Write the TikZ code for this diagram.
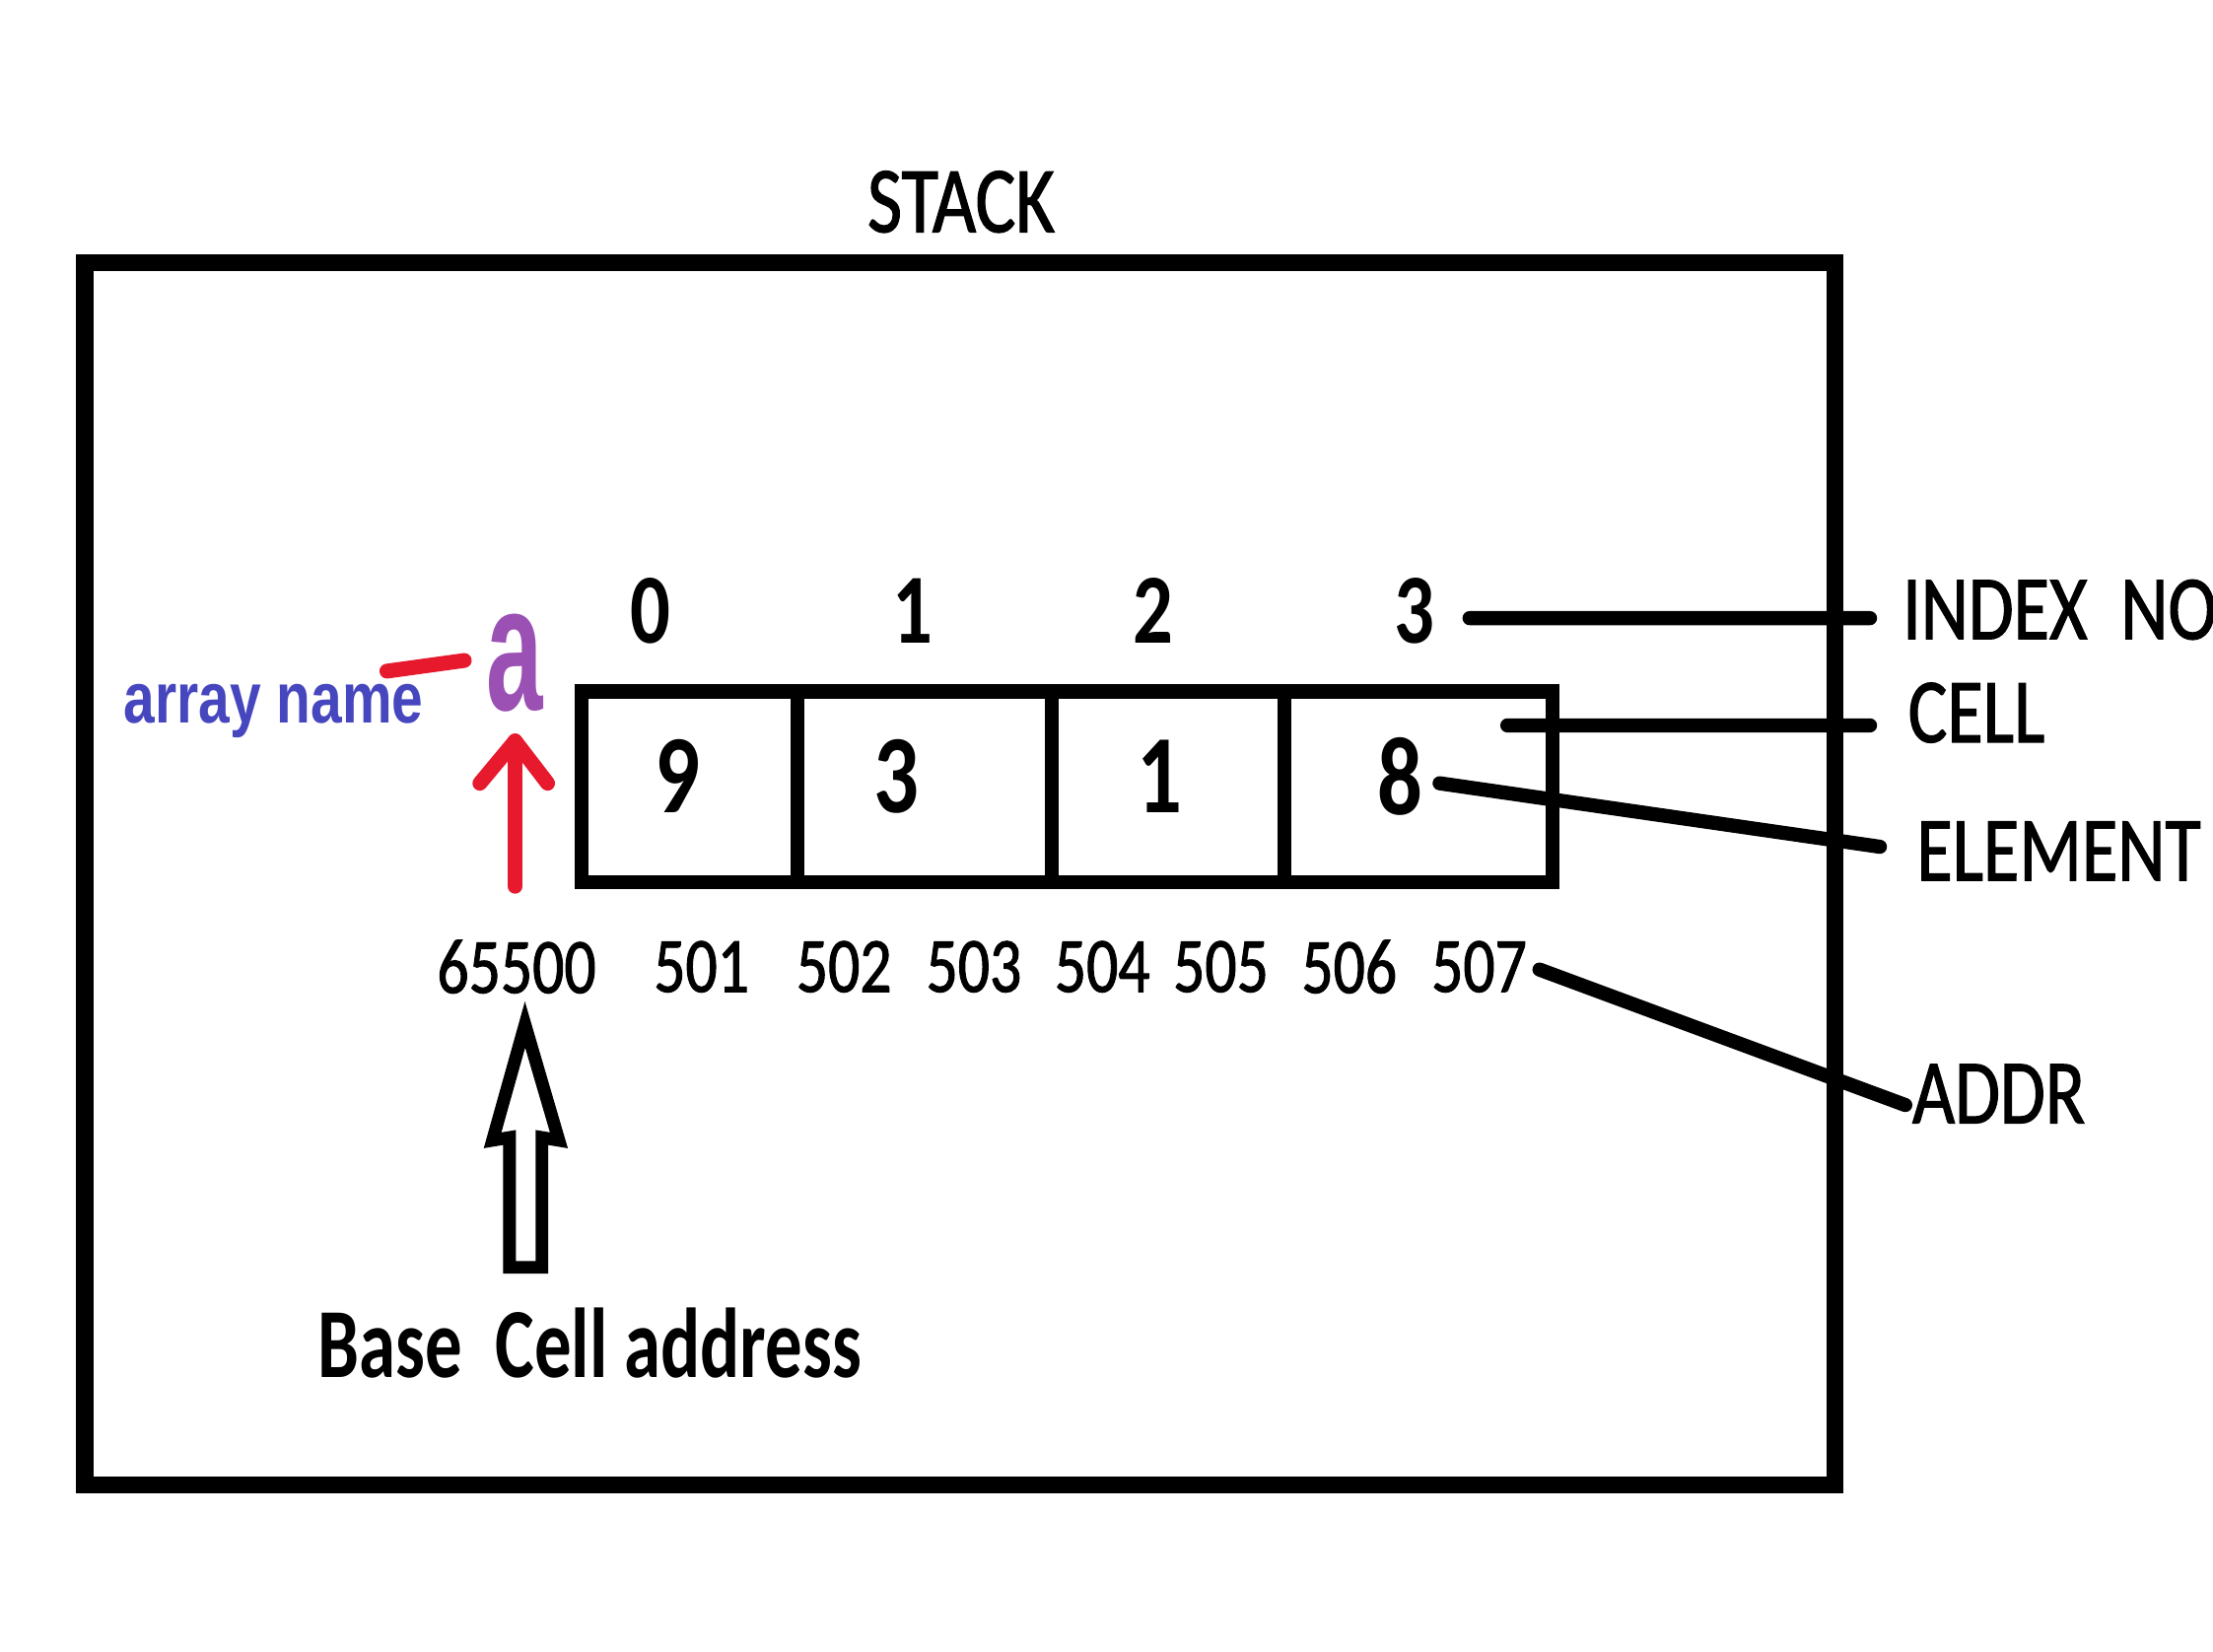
\documentclass[tikz,border=0pt]{standalone}
\usepackage{fontspec}
\setmainfont{Carlito}[FakeStretch=0.8]
\newfontfamily\labelfont{Carlito}[FakeStretch=0.8, FakeBold=1.2]
\newfontfamily\arialcond{Liberation Sans}[FakeStretch=0.78]
\newfontfamily\arialplain{Liberation Sans}
\usetikzlibrary{arrows.meta}
\definecolor{redA}{RGB}{230,25,45}
\definecolor{blueA}{RGB}{70,70,190}
\definecolor{purpleA}{RGB}{155,80,180}
\begin{document}
\begin{tikzpicture}[x=0.1mm,y=-0.1mm,
  txt/.style={inner sep=0pt, outer sep=0pt},
  lbl/.style={txt, anchor=west, font=\labelfont\fontsize{18.5pt}{20pt}\selectfont},
  idxnum/.style={txt, font=\fontsize{20pt}{22pt}\selectfont\bfseries},
  elnum/.style={txt, font=\fontsize{22.5pt}{24pt}\selectfont\bfseries},
  addrnum/.style={txt, font=\labelfont\fontsize{15.8pt}{17pt}\selectfont},
  cellbox/.style={draw, line width=1mm, minimum height=13.5mm, inner sep=0pt, outer sep=0pt},
  leader/.style={line width=1mm, line cap=round},
  redpen/.style={redA, line width=1.05mm, line cap=round, line join=round}]
\clip (0,0) rectangle (1568,1170);
\fill[white] (0,0) rectangle (1568,1170);
% outer frame
\node (stackframe) [draw, line width=1.2mm, minimum width=124mm, minimum height=86.6mm, inner sep=0pt] at (680,619) {};
\node (stacktitle) [txt, font=\labelfont\fontsize{19pt}{21pt}\selectfont] at (681,143) {STACK};
% cells
\node (cell0) [cellbox, minimum width=15.3mm] at (488.5,557.5) {};
\node (cell1) [cellbox, minimum width=18mm] at (655,557.5) {};
\node (cell2) [cellbox, minimum width=16.5mm] at (827.5,557.5) {};
\node (cell3) [cellbox, minimum width=19mm] at (1005,557.5) {};
% elements
\node (el0) [elnum] at (480,550) {9};
\node (el1) [elnum] at (635,550) {3};
\node (el2) [elnum] at (822,550) {1};
\node (el3) [elnum] at (992,550) {8};
% index numbers
\node (idx0) [idxnum] at (461,433) {0};
\node (idx1) [idxnum] at (647,433) {1};
\node (idx2) [idxnum] at (817,433) {2};
\node (idx3) [idxnum] at (1002,433) {3};
% addresses
\node (addr0) [addrnum] at (366,685) {65500};
\node (addr1) [addrnum] at (497,685) {501};
\node (addr2) [addrnum] at (598,685) {502};
\node (addr3) [addrnum] at (690,685) {503};
\node (addr4) [addrnum] at (781,685) {504};
\node (addr5) [addrnum] at (865,685) {505};
\node (addr6) [addrnum] at (956,685) {506};
\node (addr7) [addrnum] at (1048,685) {507};
% right labels
\node (lblindex) [lbl] at (1348,432) {INDEX\ \ NO};
\node (lblcell) [lbl] at (1352,505) {CELL};
\node (lblelem) [lbl] at (1358,603) {ELEMENT};
\node (lbladdr) [lbl] at (1355,775) {ADDR};
% leader lines
\coordinate (cellpt) at (1068,514);
\draw[leader] ([xshift=2.5mm,yshift=-0.5mm]idx3.east) -- ([xshift=-2.3mm,yshift=-0.6mm]lblindex.west);
\draw[leader] (cellpt) -- ([xshift=-2.7mm,yshift=-0.9mm]lblcell.west);
\draw[leader] ([xshift=1.2mm,yshift=-0.5mm]el3.east) -- ([xshift=-2.6mm,yshift=0.3mm]lblelem.west);
\draw[leader] ([xshift=0.9mm,yshift=-0.2mm]addr7.east) -- ([xshift=-0.5mm,yshift=-0.8mm]lbladdr.west);
% array name
\node (aname) [txt, purpleA, font=\arialplain\bfseries\fontsize{36pt}{38pt}\selectfont] at (365,470) {\scalebox{0.57}[1]{a}};
\node (arrname) [txt, anchor=base west, blueA, font=\arialcond\bfseries\fontsize{14.5pt}{16pt}\selectfont] at (88,512) {array name};
\draw[redpen] ([xshift=-2.6mm,yshift=0.9mm]arrname.north east) -- ([xshift=-1.6mm,yshift=0.2mm]aname.west);
% red arrow
\coordinate (redtail) at (365,628);
\coordinate (redtip) at (365,525);
\draw[redpen] (redtail) -- (redtip);
\draw[redpen] (340,555) -- (redtip) -- (388,555);
% hollow block arrow
\draw[line width=0.9mm, fill=white, line join=miter] (372,726) -- (396,808) -- (384,806) -- (384,898) -- (361,898) -- (361,806) -- (349,808) -- cycle;
\node (basecell) [txt, anchor=west, font=\fontsize{20pt}{22pt}\selectfont\bfseries] at (225,952) {\scalebox{0.93}[1]{Base\ \ Cell address}};
\end{tikzpicture}
\end{document}
